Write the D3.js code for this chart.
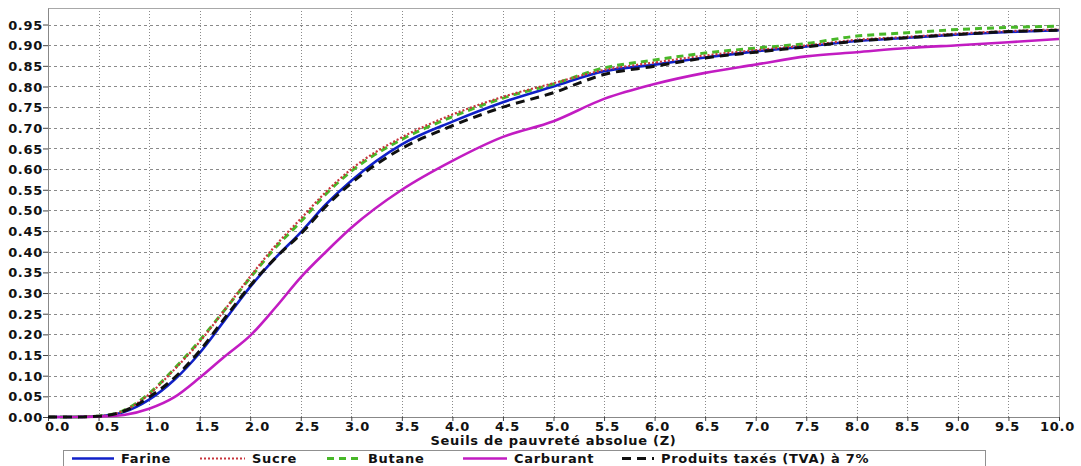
<!DOCTYPE html>
<html>
<head>
<meta charset="utf-8">
<script src="https://cdn.jsdelivr.net/npm/d3@7"></script>
<style>
	body { margin: 0; background: #fff; }
	.axisLabel { font-family: "DejaVu Sans", sans-serif; font-weight: bold; font-size: 13px; letter-spacing: 0.7px; fill: #111; }
</style>
</head>
<body>
<div id="chart"></div>
<script>
// seuils Z
var seuils = [0, 0.25, 0.5, 0.75, 1.0, 1.25, 1.5, 1.75, 2.0, 2.25, 2.5, 2.75, 3.0, 3.5, 4.0, 4.5, 5.0, 5.5, 6.0, 6.5, 7.0, 7.5, 8.0, 8.5, 9.0, 9.5, 10.0];

var farine = [0, 0, 0.002, 0.012, 0.042, 0.09, 0.155, 0.235, 0.315, 0.385, 0.447, 0.515, 0.572, 0.66, 0.715, 0.762, 0.80, 0.837, 0.853, 0.87, 0.885, 0.897, 0.91, 0.918, 0.926, 0.932, 0.936];
var sucre = [0, 0, 0.002, 0.015, 0.055, 0.115, 0.182, 0.26, 0.34, 0.415, 0.48, 0.545, 0.60, 0.677, 0.732, 0.775, 0.808, 0.84, 0.858, 0.875, 0.888, 0.899, 0.913, 0.92, 0.928, 0.934, 0.938];
var butane = [0, 0, 0.002, 0.016, 0.057, 0.117, 0.185, 0.26, 0.337, 0.41, 0.473, 0.54, 0.595, 0.672, 0.727, 0.772, 0.806, 0.845, 0.864, 0.881, 0.893, 0.904, 0.922, 0.93, 0.938, 0.943, 0.946];
var carburant = [0, 0, 0.001, 0.005, 0.02, 0.048, 0.095, 0.147, 0.197, 0.265, 0.338, 0.40, 0.458, 0.55, 0.62, 0.678, 0.716, 0.77, 0.806, 0.833, 0.853, 0.873, 0.883, 0.893, 0.90, 0.907, 0.915];
var tva = [0, 0, 0.002, 0.014, 0.048, 0.095, 0.16, 0.24, 0.318, 0.385, 0.443, 0.51, 0.566, 0.65, 0.705, 0.75, 0.785, 0.829, 0.849, 0.869, 0.883, 0.896, 0.91, 0.918, 0.926, 0.933, 0.936];

var seriesNames = ["Farine", "Sucre", "Butane", "Carburant", "Produits taxés (TVA) à 7%"];
var seriesValues = [farine, sucre, butane, carburant, tva];

var xTicks = d3.range(0, 21).map(function(i){ return i * 0.5; });
var yTicks = d3.range(0, 20).map(function(i){ return i * 0.05; });
var xTitle = "Seuils de pauvreté absolue (Z)";

var lineStyles = [
	{color: "#1020c8", width: 2.6, dash: null},
	{color: "#c8343c", width: 2.2, dash: "2,2"},
	{color: "#48b828", width: 3, dash: "7,5"},
	{color: "#c21cc2", width: 2.6, dash: null},
	{color: "#101010", width: 3, dash: "9,6"}
];
var drawOrder = [0, 2, 1, 3, 4];
var legendX = [72, 200, 327, 463, 622];
var legendLen = [42, 45, 34, 44, 32];

function generateChart(){
	var dimensions = {top: 8, right: 22, bottom: 49, left: 48},
	width = 1081 - dimensions.left - dimensions.right,
	height = 466 - dimensions.top - dimensions.bottom;

	var svg = d3.select("#chart").append("svg")
		.attr("width", 1081)
		.attr("height", 466);
	var g = svg.append("g")
		.attr("transform", "translate(" + dimensions.left + "," + dimensions.top + ")");

	var x = d3.scaleLinear().domain([0, 10]).range([0, width]);
	var y = d3.scaleLinear().domain([0, 0.99]).range([height, 0]);
	// tick labels are laid out slightly inset from the ticks
	var xLab = d3.scaleLinear().domain([0, 10]).range([9, width - 2]);
	var fmt = d3.format(".2f");

	// grid
	g.selectAll(".hgrid").data(yTicks.slice(1)).enter().append("line")
		.attr("x1", 0).attr("x2", width)
		.attr("y1", function(d){ return Math.round(y(d)) + 0.5; })
		.attr("y2", function(d){ return Math.round(y(d)) + 0.5; })
		.style("stroke", "#8a8a8a").style("stroke-width", 1).style("stroke-dasharray", "3,3");
	g.selectAll(".vgrid").data(xTicks.slice(1, -1)).enter().append("line")
		.attr("y1", 0).attr("y2", height)
		.attr("x1", function(d){ return Math.round(x(d)) + 0.5; })
		.attr("x2", function(d){ return Math.round(x(d)) + 0.5; })
		.style("stroke", "#8a8a8a").style("stroke-width", 1).style("stroke-dasharray", "1,2");

	// frame
	g.append("rect")
		.attr("x", 0.5).attr("y", 0.5).attr("width", width).attr("height", height)
		.style("fill", "none").style("stroke", "#a8a8a8");

	var xAxis = g.append("g")
		.attr("transform", "translate(0," + height + ")")
		.call(d3.axisBottom(x).tickValues(xTicks).tickFormat(d3.format(".1f")).tickSize(4).tickSizeOuter(0));
	var yAxis = g.append("g")
		.call(d3.axisLeft(y).tickValues(yTicks).tickFormat(fmt).tickSize(5).tickSizeOuter(0));
	[xAxis, yAxis].forEach(function(a){
		a.select(".domain").style("stroke", "#888");
		a.selectAll(".tick line").style("stroke", "#444");
		a.selectAll("text").attr("class", "axisLabel").style("font-size", null).style("font-family", null);
	});
	xAxis.selectAll(".tick text")
		.attr("dy", "0.71em").attr("y", 5)
		.attr("x", function(d){ return xLab(d) - x(d); });
	yAxis.selectAll("text").attr("x", -5).attr("dy", "0.35em");

	g.append("text")
		.attr("class", "axisLabel")
		.attr("x", width / 2)
		.attr("y", height + 28)
		.style("text-anchor", "middle")
		.text(xTitle);

	// curves
	var line = d3.line()
		.x(function(d, i){ return x(seuils[i]); })
		.y(function(d){ return y(d); })
		.curve(d3.curveMonotoneX);
	drawOrder.forEach(function(k){
		var s = lineStyles[k];
		g.append("path")
			.datum(seriesValues[k])
			.attr("d", line)
			.style("fill", "none")
			.style("stroke", s.color)
			.style("stroke-width", s.width)
			.style("stroke-dasharray", s.dash);
	});

	// legend
	var legend = svg.append("g");
	legend.append("rect")
		.attr("x", 63.5).attr("y", 450.5).attr("width", 922).attr("height", 17)
		.style("fill", "#fff").style("stroke", "#909090");
	seriesNames.forEach(function(name, i){
		var s = lineStyles[i];
		legend.append("line")
			.attr("x1", legendX[i]).attr("x2", legendX[i] + legendLen[i])
			.attr("y1", 458.5).attr("y2", 458.5)
			.style("stroke", s.color)
			.style("stroke-width", s.width)
			.style("stroke-dasharray", s.dash);
		legend.append("text")
			.attr("class", "axisLabel")
			.attr("x", legendX[i] + legendLen[i] + 7)
			.attr("y", 463)
			.text(name);
	});
}

generateChart();
</script>
</body>
</html>
